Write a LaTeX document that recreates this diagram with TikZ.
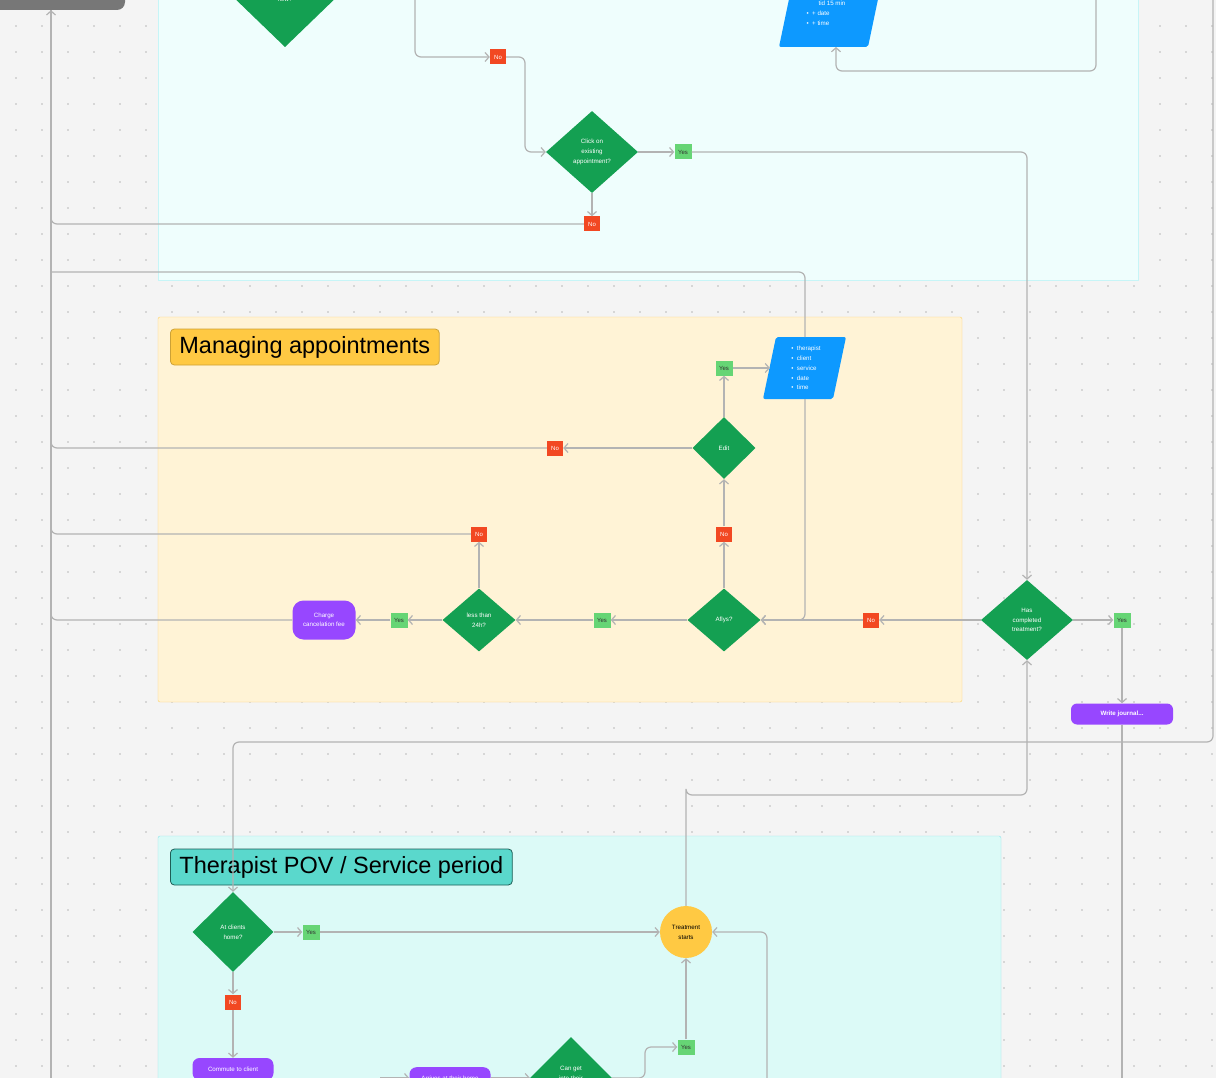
\documentclass[tikz,border=0pt]{standalone}
\usepackage{fontspec}
\setmainfont{Liberation Sans}
\usetikzlibrary{shapes.geometric,arrows.meta,calc}
\definecolor{bg}{HTML}{F4F4F4}
\definecolor{dotc}{HTML}{B8B8B8}
\definecolor{gd}{HTML}{14A052}
\definecolor{rd}{HTML}{F24822}
\definecolor{yg}{HTML}{66D575}
\definecolor{bl}{HTML}{0D99FF}
\definecolor{pu}{HTML}{9747FF}
\definecolor{ye}{HTML}{FFC943}
\definecolor{pa}{HTML}{EFFEFD}
\definecolor{paB}{HTML}{C7F5F7}
\definecolor{pb}{HTML}{FFF3D6}
\definecolor{pbB}{HTML}{FFD36B}
\definecolor{pc}{HTML}{DCFAF7}
\definecolor{pcB}{HTML}{8DE4EA}
\definecolor{tb}{HTML}{5AD8CC}
\definecolor{tbB}{HTML}{1E5E56}
\definecolor{ln}{HTML}{B3B3B3}
\definecolor{gy}{HTML}{777777}
\tikzset{
 dia/.style={diamond,fill=gd,text=white,inner sep=0pt,align=center,font=\fontsize{6.2}{9.8}\selectfont},
 no/.style={fill=rd,text=white,minimum width=16,minimum height=15,inner sep=0pt,font=\fontsize{6}{7}\selectfont},
 yes/.style={fill=yg,text=black!80,minimum width=17,minimum height=15,inner sep=0pt,font=\fontsize{6}{7}\selectfont},
 pill/.style={fill=pu,text=white,rounded corners=8,inner sep=0pt,align=center,font=\fontsize{6.2}{9.5}\selectfont},
 con/.style={draw=ln,line width=1.2pt,rounded corners=6},
 arr/.style={con,-{Straight Barb[length=4pt,width=9pt,line width=1.2pt]}},
 list/.style={text=white,align=left,inner sep=0pt,font=\fontsize{6.2}{9.8}\selectfont},
 ttl/.style={rounded corners=4,line width=0.8pt,inner xsep=9pt,minimum height=36,font=\fontsize{23.5}{26}\selectfont}
}
\begin{document}
\begin{tikzpicture}[x=1pt,y=-1pt]
\useasboundingbox (0,0) rectangle (1216,1078);
\fill[bg] (0,0) rectangle (1216,1078);
\foreach \x in {16,42,...,1216} \foreach \y in {26,52,...,1078} \fill[dotc] (\x,\y) circle (0.9);
% panels
\filldraw[fill=pa,draw=paB] (158,-5) rectangle (1138,280);
\filldraw[fill=pb,draw=pbB,rounded corners=2] (158,317) rectangle (962,702);
\filldraw[fill=pc,draw=pcB,rounded corners=2] (158,836) rectangle (1001,1090);
% top-left gray box
\node[fill=gy,rounded corners=8,minimum width=148,minimum height=40] (gray) at (51,-10) {};
% top diamond
\fill[gd] (285,-65) -- (343,-9) -- (285,47) -- (227,-9) -- cycle;
\node[text=white,font=\fontsize{6}{7}\selectfont] (newq) at (285,-1) {new?};
% top parallelogram
\fill[bl,rounded corners=2] (793,-20) -- (882,-20) -- (868,47) -- (779,47) -- cycle;
\node[list] (p1) at (826,13) {\hspace*{12pt}tid 15 min\\ \textbullet\ \ + date\\ \textbullet\ \ + time};
\coordinate (p1b) at (836,47);
% second parallelogram
\fill[bl,rounded corners=2] (776,337) -- (846,337) -- (833,399) -- (763,399) -- cycle;
\node[list] (p2) at (806,368) {\textbullet\ \ therapist\\ \textbullet\ \ client\\ \textbullet\ \ service\\ \textbullet\ \ date\\ \textbullet\ \ time};
\coordinate (p2t) at (805,337);
\coordinate (p2b) at (805,399);
\coordinate (p2l) at (770,368);
% titles
\node[ttl,fill=ye,draw=ye!80!black,anchor=west] (t1) at (170,347) {Managing appointments};
\node[ttl,fill=tb,draw=tbB,anchor=west] (t2) at (170,867) {Therapist POV / Service period};
% top section
\node[no] (no1) at (498,57) {No};
\node[dia,minimum width=92,minimum height=82] (click) at (592,152) {Click on\\existing\\appointment?};
\node[yes] (yes1) at (683,152) {Yes};
\node[no] (no2) at (592,224) {No};
% managing
\node[yes] (yes2) at (724,368) {Yes};
\node[dia,minimum width=63,minimum height=62] (edit) at (724,448) {Edit};
\node[no] (no3) at (555,448) {No};
\node[no] (no4) at (724,534) {No};
\node[dia,minimum width=73,minimum height=63] (aflys) at (724,620) {Aflys?};
\node[no] (no5) at (871,620) {No};
\node[dia,minimum width=92,minimum height=80] (has) at (1027,620) {Has\\completed\\treatment?};
\node[yes] (yes3) at (1122,620) {Yes};
\node[pill,minimum width=102,minimum height=21,rounded corners=6] (journal) at (1122,714) {\textbf{Write journal...}};
\node[yes] (yes4) at (602,620) {Yes};
\node[dia,minimum width=73,minimum height=63] (less) at (479,620) {less than\\24h?};
\node[no] (no6) at (479,534) {No};
\node[yes] (yes5) at (399,620) {Yes};
\node[pill,minimum width=63,minimum height=39,rounded corners=11] (charge) at (324,620) {Charge\\cancelation fee};
% service
\node[dia,minimum width=81,minimum height=80] (home) at (233,932) {At clients\\home?};
\node[yes] (yes6) at (311,932) {Yes};
\node[circle,fill=ye,minimum size=52,inner sep=0pt,align=center,font=\fontsize{6.2}{9.8}\selectfont] (treat) at (686,932) {Treatment\\starts};
\node[no] (no7) at (233,1002) {No};
\node[pill,minimum width=81,minimum height=22,rounded corners=7] (commute) at (233,1069) {Commute to client};
\node[pill,minimum width=81,minimum height=22,rounded corners=7,anchor=north] (arrive) at (450,1067) {Arrives at their home};
\fill[gd] (571,1037) -- (612,1078) -- (612,1090) -- (530,1090) -- (530,1078) -- cycle;
\node[text=white,align=center,font=\fontsize{6.2}{9.8}\selectfont,anchor=north] (canget) at (571,1063) {Can get\\into their};
\node[yes] (yes7) at (686,1047) {Yes};
% coordinates
\coordinate (x51b) at (51,1078);
\coordinate (c272) at (51,272);
\coordinate (t415) at (415,-5);
\coordinate (b525) at (525,152);
\coordinate (t1096) at (1096,-5);
\coordinate (b71) at (836,71);
\coordinate (r1213) at (1213,-5);
\coordinate (r742) at (233,742);
\coordinate (b795) at (686,795);
\coordinate (b767) at (767,1078);
\coordinate (b1122) at (1122,1078);
\coordinate (cm) at (380,1078);
\coordinate (cg) at (612,1078);
% connectors
\draw[arr] (x51b) -- (gray.south);
\draw[arr] (t415) |- (no1.west);
\draw[arr] (no1.east) -| (b525) -- (click.west);
\draw[arr] (click.east) -- (yes1.west);
\draw[arr] (yes1.east) -| (has.north);
\draw[arr] (click.south) -- (no2.north);
\draw[con] (no2.west) -| (gray.south);
\draw[arr] (t1096) |- (b71) -- (p1b);
\draw[con] (c272) -| (p2t);
\draw[con] (c272) -- (gray.south);
\draw[arr] (p2b) |- (aflys.east);
\draw[arr] (yes2.east) -- (p2l);
\draw[arr] (edit.north) -- (yes2.south);
\draw[arr] (edit.west) -- (no3.east);
\draw[con] (no3.west) -| (gray.south);
\draw[arr] (no4.north) -- (edit.south);
\draw[arr] (aflys.north) -- (no4.south);
\draw[arr] (has.west) -- (no5.east);
\draw[arr] (no5.west) -- (aflys.east);
\draw[arr] (has.east) -- (yes3.west);
\draw[arr] (yes3.south) -- (journal.north);
\draw[con] (journal.south) -- (b1122);
\draw[arr] (aflys.west) -- (yes4.east);
\draw[arr] (yes4.west) -- (less.east);
\draw[arr] (less.north) -- (no6.south);
\draw[con] (no6.west) -| (gray.south);
\draw[arr] (less.west) -- (yes5.east);
\draw[arr] (yes5.west) -- (charge.east);
\draw[con] (charge.west) -| (gray.south);
\draw[arr] (r1213) |- (r742) -- (home.north);
\draw[arr] (home.east) -- (yes6.west);
\draw[arr] (yes6.east) -- (treat.west);
\draw[arr] (home.south) -- (no7.north);
\draw[arr] (no7.south) -- (commute.north);
\draw[arr] (treat.north) |- (b795) -| (has.south);
\draw[arr] (b767) |- (treat.east);
\draw[arr] (cm) -- (arrive.west |- cm);
\draw[arr] (arrive.east |- cm) -- (530,1078);
\draw[arr] (cg) -- (645,1078) |- (yes7.west);
\draw[arr] (yes7.north) -- (treat.south);
\end{tikzpicture}
\end{document}
